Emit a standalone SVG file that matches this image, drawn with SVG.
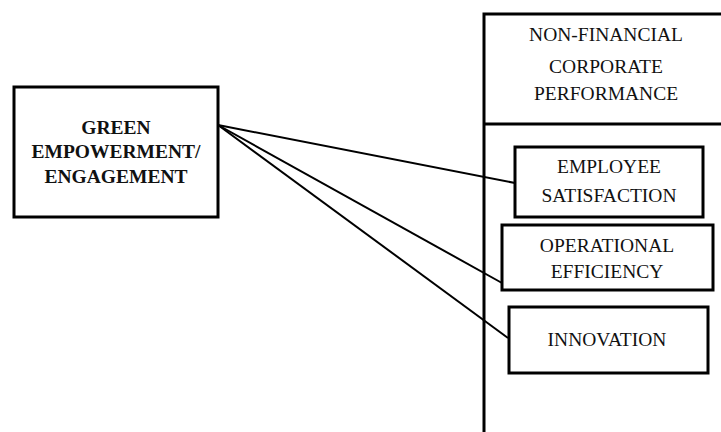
<svg xmlns="http://www.w3.org/2000/svg" width="721" height="432" viewBox="0 0 721 432">
<style>
.box{fill:#fff;stroke:#000;stroke-width:3}
.t{font-family:"Liberation Serif","Times New Roman",serif;font-size:19.5px;fill:#111;text-anchor:middle}
.b{font-weight:bold}
.c{stroke:#000;stroke-width:2;fill:none}
</style>
<rect width="721" height="432" fill="#fff"/>
<g id="outer">
<rect class="box" x="484" y="14" width="260" height="430"/>
<line x1="484" y1="124" x2="721" y2="124" stroke="#000" stroke-width="3"/>
<text class="t" x="606" y="41">NON-FINANCIAL</text>
<text class="t" x="606" y="73">CORPORATE</text>
<text class="t" x="606" y="100">PERFORMANCE</text>
</g>
<g id="connectors">
<line class="c" x1="218" y1="125" x2="515" y2="183"/>
<line class="c" x1="218" y1="125" x2="502" y2="283"/>
<line class="c" x1="218" y1="125" x2="508" y2="338"/>
</g>
<g id="green">
<rect class="box" x="14" y="87" width="204" height="130"/>
<text class="t b" x="116" y="134">GREEN</text>
<text class="t b" x="116" y="158">EMPOWERMENT/</text>
<text class="t b" x="116" y="183">ENGAGEMENT</text>
</g>
<g id="employee">
<rect class="box" x="515" y="147" width="188" height="70"/>
<text class="t" x="609" y="173">EMPLOYEE</text>
<text class="t" x="609" y="202">SATISFACTION</text>
</g>
<g id="operational">
<rect class="box" x="502" y="225" width="211" height="65"/>
<text class="t" x="607" y="252">OPERATIONAL</text>
<text class="t" x="607" y="278">EFFICIENCY</text>
</g>
<g id="innovation">
<rect class="box" x="509" y="307" width="199" height="66"/>
<text class="t" x="607" y="346">INNOVATION</text>
</g>
</svg>
